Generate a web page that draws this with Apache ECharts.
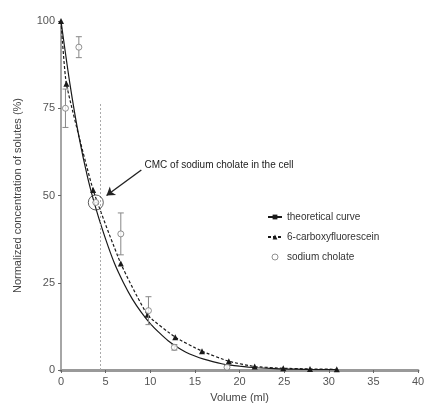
<!DOCTYPE html>
<html><head><meta charset="utf-8">
<script src="https://cdn.jsdelivr.net/npm/echarts@6/dist/echarts.min.js"></script>
<style>html,body{margin:0;padding:0;background:#fff}#c{width:428px;height:410px}</style>
</head><body><div id="c"></div>
<script>
// Theoretical curve (solid)
const theoX = [0, 1, 2, 3, 4, 5, 6, 7, 8, 9, 10, 11, 12, 13, 14, 15, 16, 17, 18, 19, 20, 21, 22, 23, 24, 25, 26, 27, 28, 29, 30, 31];
const theoY = [100, 82, 67, 55, 45.5, 37.5, 30.5, 25, 20.3, 16.5, 13.3, 10.7, 8.4, 6.6, 5.1, 4.0, 3.1, 2.4, 1.8, 1.4, 1.1, 0.85, 0.65, 0.5, 0.4, 0.3, 0.25, 0.2, 0.15, 0.12, 0.1, 0.08];
// 6-carboxyfluorescein (dashed, triangles)
const cfX = [0, 0.6, 3.6, 6.7, 9.7, 12.8, 15.8, 18.8, 21.7, 24.9, 27.9, 30.9];
const cfY = [100, 82, 51.6, 30.5, 15.8, 9.4, 5.4, 2.5, 1.0, 0.5, 0.3, 0.2];
// sodium cholate (open circles with error bars)
const scX = [0.5, 2.0, 3.9, 6.7, 9.8, 12.7, 18.6];
const scY = [75, 92.5, 48, 39, 17, 6.5, 0.8];
const scErr = [5.5, 3, 0, 6, 4, 0.8, 0.5];
// annotation
const cmcX = 4.35, cmcTop = 76.5;
const cmcPoint = [3.9, 48];
const arrowFrom = [9.0, 57.3], arrowTo = [5.1, 50];
const xTicks = [0, 40, 5];
const yTicks = [0, 100, 25];

const zip = (a, b) => a.map((v, i) => [v, b[i]]);
const ink = '#1a1a1a';
const chart = echarts.init(document.getElementById('c'));
chart.setOption({
  animation: false,
  textStyle: {fontFamily: 'Liberation Sans, Arial, sans-serif'},
  grid: {left: 61, right: 10, top: 21, bottom: 40},
  legend: {
    orient: 'vertical', left: 262, top: 207, itemGap: 10, itemWidth: 14, itemHeight: 6,
    textStyle: {fontSize: 10, color: '#333'},
    data: ['theoretical curve', '6-carboxyfluorescein',
           {name: 'sodium cholate', icon: 'circle', itemStyle: {color: '#fff', borderColor: '#777', borderWidth: 1}}]
  },
  xAxis: {
    type: 'value', min: xTicks[0], max: xTicks[1], interval: xTicks[2],
    name: 'Volume (ml)', nameLocation: 'middle', nameGap: 22,
    nameTextStyle: {fontSize: 11, color: '#444'},
    axisLine: {lineStyle: {color: '#999', width: 3}},
    axisTick: {show: true, length: 3, lineStyle: {color: '#666'}},
    axisLabel: {fontSize: 11, color: '#555', margin: 6},
    splitLine: {show: false}
  },
  yAxis: {
    type: 'value', min: yTicks[0], max: yTicks[1], interval: yTicks[2],
    name: 'Normalized concentration of solutes (%)', nameLocation: 'middle', nameGap: 38,
    nameTextStyle: {fontSize: 11, color: '#444'},
    axisLine: {show: true, lineStyle: {color: '#888', width: 1.5}},
    axisTick: {show: true, length: 3, lineStyle: {color: '#666'}},
    axisLabel: {fontSize: 11, color: '#555', margin: 6},
    splitLine: {show: false}
  },
  series: [
    {
      name: 'theoretical curve', type: 'line', data: zip(theoX, theoY), smooth: 0.3,
      showSymbol: false, symbol: 'rect', symbolSize: 4,
      lineStyle: {color: ink, width: 1.2}, itemStyle: {color: ink}, z: 3
    },
    {
      name: '6-carboxyfluorescein', type: 'line', data: zip(cfX, cfY), smooth: 0.15,
      symbol: 'triangle', symbolSize: 6,
      lineStyle: {color: ink, width: 1.2, type: [3, 2]}, itemStyle: {color: ink}, z: 4,
      markLine: {
        silent: true, symbol: ['none', 'none'],
        lineStyle: {color: '#aaa', type: [2, 2], width: 1},
        label: {show: false},
        data: [[{coord: [cmcX, 0]}, {coord: [cmcX, cmcTop]}]]
      }
    },
    {
      name: 'sodium cholate', type: 'scatter', data: zip(scX, scY),
      symbol: 'circle', symbolSize: 6,
      itemStyle: {color: '#fff', borderColor: '#777', borderWidth: 1}, z: 6
    },
    {
      name: 'errors', type: 'custom', z: 5,
      data: scX.map((x, i) => [x, scY[i] - scErr[i], scY[i] + scErr[i]]),
      renderItem: (params, api) => {
        const lo = api.coord([api.value(0), api.value(1)]);
        const hi = api.coord([api.value(0), api.value(2)]);
        const w = 3;
        const st = {stroke: '#888', lineWidth: 1};
        return {type: 'group', children: [
          {type: 'line', shape: {x1: lo[0], y1: lo[1], x2: hi[0], y2: hi[1]}, style: st},
          {type: 'line', shape: {x1: lo[0]-w, y1: lo[1], x2: lo[0]+w, y2: lo[1]}, style: st},
          {type: 'line', shape: {x1: hi[0]-w, y1: hi[1], x2: hi[0]+w, y2: hi[1]}, style: st}
        ]};
      }
    },
    {
      name: 'cmc', type: 'scatter', data: [cmcPoint], symbol: 'circle', symbolSize: 15,
      itemStyle: {color: 'rgba(0,0,0,0)', borderColor: '#333', borderWidth: 1}, z: 7, silent: true,
      markLine: {
        silent: true, symbol: ['none', 'arrow'], symbolSize: 8,
        lineStyle: {color: '#222', type: 'solid', width: 1.4},
        label: {show: true, position: 'start', formatter: 'CMC of sodium cholate in the cell',
                fontSize: 10, color: '#222', align: 'left', verticalAlign: 'bottom', distance: [4, -1]},
        data: [[{coord: arrowFrom}, {coord: arrowTo}]]
      }
    }
  ]
});
</script></body></html>
